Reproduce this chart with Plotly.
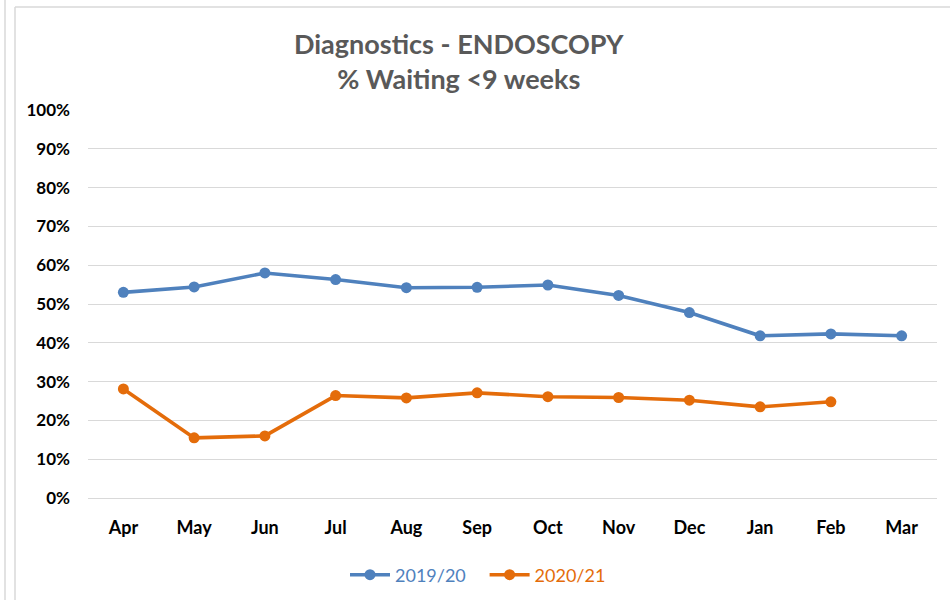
import plotly.graph_objects as go

months = ["Apr", "May", "Jun", "Jul", "Aug", "Sep", "Oct", "Nov", "Dec", "Jan", "Feb", "Mar"]
y2019 = [53.0, 54.4, 58.0, 56.3, 54.2, 54.3, 54.9, 52.2, 47.8, 41.8, 42.3, 41.8]
y2020 = [28.1, 15.5, 16.0, 26.4, 25.8, 27.1, 26.1, 25.9, 25.2, 23.5, 24.8, None]
yticks = [0, 10, 20, 30, 40, 50, 60, 70, 80, 90, 100]
yticklabels = [f"{v}%" for v in yticks]

BLUE = "#4F81BD"
ORANGE = "#E46C0A"
GRID = "#D9D9D9"
FONT = "Lato"

fig = go.Figure()
fig.add_trace(go.Scatter(
    x=months, y=y2019, mode="lines+markers",
    name=f"<span style='color:{BLUE}'>2019/20</span>&nbsp;&nbsp;&nbsp;",
    line=dict(color=BLUE, width=3.6), marker=dict(color=BLUE, size=11)))
fig.add_trace(go.Scatter(
    x=months, y=y2020, mode="lines+markers",
    name=f"<span style='color:{ORANGE}'>2020/21</span>",
    line=dict(color=ORANGE, width=3.6), marker=dict(color=ORANGE, size=11)))

L, R, T, B = 88, 13, 110, 102
W, H = 950, 600
pw, ph = W - L - R, H - T - B

def px(p):
    return (p - L) / pw

def py(q):
    return (H - B - q) / ph

shapes = [
    dict(type="line", xref="paper", yref="paper", x0=px(5), x1=px(5), y0=py(0), y1=py(600),
         line=dict(color=GRID, width=1.5)),
    dict(type="line", xref="paper", yref="paper", x0=px(15), x1=px(15), y0=py(7), y1=py(600),
         line=dict(color=GRID, width=1.5)),
    dict(type="line", xref="paper", yref="paper", x0=px(15), x1=px(950), y0=py(7), y1=py(7),
         line=dict(color=GRID, width=1.5)),
]

fig.update_layout(
    width=W, height=H,
    margin=dict(l=L, r=R, t=T, b=B, autoexpand=False),
    paper_bgcolor="white", plot_bgcolor="white",
    title=dict(text="Diagnostics - ENDOSCOPY<br>% Waiting <9 weeks",
               x=px(498), xanchor="center", y=1 - 54 / H, yanchor="middle",
               font=dict(family=FONT, size=27, color="#595959", weight="bold")),
    xaxis=dict(type="category", range=[-0.5, 11.5], showgrid=False, showline=False,
               zeroline=False, ticks="", ticklabelstandoff=17,
               tickfont=dict(family=FONT, size=18, color="black", weight="bold")),
    yaxis=dict(range=[0, 100], tickvals=yticks, ticktext=yticklabels,
               showgrid=True, gridcolor=GRID, gridwidth=1.3, zeroline=True,
               zerolinecolor=GRID, zerolinewidth=1.3, showline=False, ticks="",
               ticklabelstandoff=17,
               tickfont=dict(family=FONT, size=17, color="black", weight="bold")),
    legend=dict(orientation="h", x=px(478), xanchor="center", y=py(575), yanchor="middle",
                font=dict(family=FONT, size=18), itemwidth=40, bgcolor="rgba(0,0,0,0)"),
    shapes=shapes,
    hovermode=False,
)

fig.write_html("out.html", config={"displayModeBar": False},
               post_script="document.body.style.margin='0px';")
